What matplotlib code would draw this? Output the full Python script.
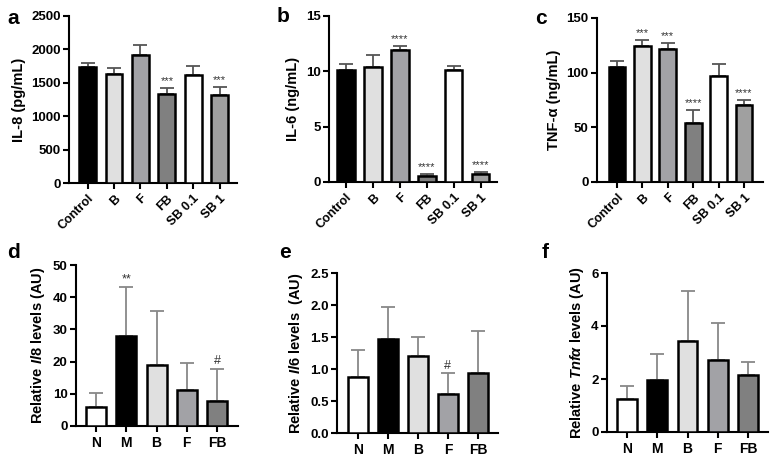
import matplotlib
matplotlib.use("Agg")
import matplotlib.pyplot as plt

plt.rcParams['font.family'] = ['Liberation Sans', 'DejaVu Sans']
plt.rcParams['font.weight'] = 'bold'
plt.rcParams['mathtext.fontset'] = 'custom'
plt.rcParams['mathtext.it'] = 'Liberation Sans:italic:bold'
plt.rcParams['mathtext.rm'] = 'Liberation Sans:bold'
plt.rcParams['mathtext.bf'] = 'Liberation Sans:bold'

# ---- data ----
top_cats = ["Control", "B", "F", "FB", "SB 0.1", "SB 1"]
top_colors = ["#000000", "#e0e0e0", "#a2a2a6", "#808080", "#ffffff", "#a0a0a0"]

il8_vals = [1730, 1630, 1910, 1330, 1620, 1320]
il8_err = [60, 90, 150, 90, 130, 110]
il8_sig = ["", "", "", "***", "", "***"]

il6_vals = [10.1, 10.4, 11.9, 0.55, 10.1, 0.75]
il6_err = [0.55, 1.1, 0.35, 0.15, 0.4, 0.15]
il6_sig = ["", "", "****", "****", "", "****"]

tnf_vals = [105, 124, 122, 54, 97, 70]
tnf_err = [6, 6, 5, 12, 11, 5]
tnf_sig = ["", "***", "***", "****", "", "****"]

bot_cats = ["N", "M", "B", "F", "FB"]
bot_colors = ["#ffffff", "#000000", "#e0e0e0", "#a2a2a6", "#808080"]

rel_il8_vals = [5.8, 28.0, 18.8, 11.2, 7.9]
rel_il8_err = [4.6, 15.2, 17.0, 8.5, 9.8]
rel_il8_sig = ["", "**", "", "", "#"]

rel_il6_vals = [0.88, 1.47, 1.21, 0.61, 0.93]
rel_il6_err = [0.42, 0.50, 0.29, 0.32, 0.67]
rel_il6_sig = ["", "", "", "#", ""]

rel_tnf_vals = [1.25, 1.95, 3.42, 2.72, 2.15]
rel_tnf_err = [0.47, 0.98, 1.90, 1.40, 0.50]
rel_tnf_sig = ["", "", "", "", ""]

W, H = 771, 457
fig = plt.figure(figsize=(W / 100, H / 100), dpi=100)


def ax_px(x0, x1, ytop, ybot):
    return fig.add_axes([x0 / W, 1 - ybot / H, (x1 - x0) / W, (ybot - ytop) / H])


def draw(ax, cats, vals, errs, sigs, colors, ylim, yticks, xlim, width,
         ecolor, rot, ylabel, sigsize, ytickfmt=None):
    x = list(range(len(cats)))
    ax.bar(x, vals, width=width, color=colors, edgecolor="black",
           linewidth=1.8, zorder=3)
    ax.errorbar(x, vals, yerr=[[0] * len(errs), errs], fmt="none",
                ecolor=ecolor, elinewidth=1.3, capsize=5, capthick=1.3,
                zorder=2)
    span = ylim[1] - ylim[0]
    for xi, v, e, s in zip(x, vals, errs, sigs):
        if s:
            ax.text(xi, v + e + span * 0.012, s, ha="center", va="bottom",
                    fontsize=sigsize, fontweight="normal", color="#333333")
    ax.set_xlim(*xlim)
    ax.set_ylim(*ylim)
    ax.set_yticks(yticks)
    if ytickfmt:
        ax.set_yticklabels([ytickfmt.format(t) for t in yticks])
    ax.set_xticks(x)
    if rot:
        ax.set_xticklabels(cats, rotation=45, ha="right",
                           rotation_mode="anchor")
        ax.tick_params(axis="x", labelsize=9, pad=3)
    else:
        ax.set_xticklabels(cats)
        ax.tick_params(axis="x", labelsize=10, pad=3)
    for sp in ["top", "right"]:
        ax.spines[sp].set_visible(False)
    for sp in ["left", "bottom"]:
        ax.spines[sp].set_linewidth(1.5)
    ax.tick_params(axis="both", width=1.5, length=4)
    ax.tick_params(axis="y", labelsize=9.5, pad=2)
    for lbl in ax.get_xticklabels() + ax.get_yticklabels():
        lbl.set_fontweight("bold")
    ax.set_ylabel(ylabel, fontsize=10.5, fontweight="bold", labelpad=4)


ax_a = ax_px(69, 237, 16, 183)
draw(ax_a, top_cats, il8_vals, il8_err, il8_sig, top_colors, (0, 2500),
     [0, 500, 1000, 1500, 2000, 2500], (-0.7, 5.65), 0.64, "#555555", True,
     "IL-8 (pg/mL)", 8)

ax_b = ax_px(329, 497, 16, 182)
draw(ax_b, top_cats, il6_vals, il6_err, il6_sig, top_colors, (0, 15),
     [0, 5, 10, 15], (-0.63, 5.6), 0.64, "#555555", True,
     "IL-6 (ng/mL)", 8)

ax_c = ax_px(597, 763, 18, 182)
draw(ax_c, top_cats, tnf_vals, tnf_err, tnf_sig, top_colors, (0, 150),
     [0, 50, 100, 150], (-0.79, 5.75), 0.66, "#555555", True,
     "TNF-α (ng/mL)", 8)

ax_d = ax_px(76, 238, 265, 426)
draw(ax_d, bot_cats, rel_il8_vals, rel_il8_err, rel_il8_sig, bot_colors,
     (0, 50), [0, 10, 20, 30, 40, 50], (-0.66, 4.69), 0.66, "#888888", False,
     r"Relative $Il8$ levels (AU)", 9)

ax_e = ax_px(337, 498, 273, 433)
draw(ax_e, bot_cats, rel_il6_vals, rel_il6_err, rel_il6_sig, bot_colors,
     (0, 2.5), [0, 0.5, 1.0, 1.5, 2.0, 2.5], (-0.7, 4.67), 0.66, "#888888",
     False, r"Relative $Il6$ levels  (AU)", 9, ytickfmt="{:.1f}")

ax_f = ax_px(607, 768, 273, 432)
draw(ax_f, bot_cats, rel_tnf_vals, rel_tnf_err, rel_tnf_sig, bot_colors,
     (0, 6), [0, 2, 4, 6], (-0.66, 4.66), 0.66, "#888888", False,
     r"Relative $Tnf\alpha$ levels (AU)", 9)

for lbl, (px, py) in zip("abcdef", [(7, 18), (277, 16), (535, 18),
                                     (7, 252), (279, 252), (542, 252)]):
    fig.text(px / W, 1 - py / H, lbl, fontsize=15, fontweight="bold",
             ha="left", va="center")

fig.savefig("out.png", dpi=100)
